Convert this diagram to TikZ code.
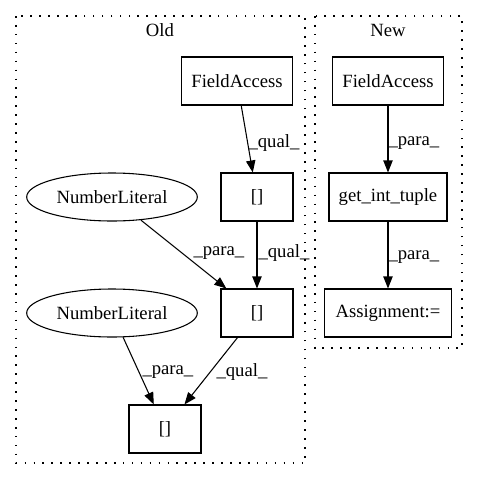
\documentclass[tikz,border=0pt]{standalone}
\usepackage{fontspec}
\setmainfont{Liberation Serif}
\usetikzlibrary{arrows.meta,shapes.geometric}

\begin{document}
\begin{tikzpicture}[x=0.75pt, y=-0.75pt, line width = 0.8pt,
  every node/.style={font=\fontsize{14}{16}\selectfont},
  box/.style={draw, rectangle, minimum height=36pt, inner sep=0pt},
  lit/.style={draw, ellipse, minimum width=128pt, minimum height=36pt, inner sep=0pt},
  edge/.style={-{Triangle[length=9pt,width=7pt]}},
  lbl/.style={anchor=west, inner sep=0pt},
  cluster/.style={line width=0.9pt, dash pattern=on 1.2pt off 5.5pt}]

\useasboundingbox (0,0) rectangle (477,480);

% clusters
\draw[cluster] (16,16) rectangle (305,463);
\node (oldTitle) at (160,30) {Old};
\draw[cluster] (315,16) rectangle (462,348);
\node (newTitle) at (388,30) {New};

% old
\node[box, minimum width=83pt] (oldField) at (237,81) {FieldAccess};
\node[box, minimum width=54pt] (oldSubA) at (257,197) {[]};
\node[lit] (numLitA) at (112,197) {NumberLiteral};
\node[box, minimum width=54pt] (oldSubB) at (257,313) {[]};
\node[lit] (numLitB) at (112,313) {NumberLiteral};
\node[box, minimum width=54pt] (oldSubC) at (165,429) {[]};

\draw[edge] (oldField) -- (oldSubA);
\node[lbl] (qualA) at (248,143) {\_qual\_};
\draw[edge] (oldSubA) -- (oldSubB);
\node[lbl] (qualB) at (258,253) {\_qual\_};
\draw[edge] (numLitA) -- (oldSubB);
\node[lbl] (paraA) at (193,253) {\_para\_};
\draw[edge] (numLitB) -- (oldSubC);
\node[lbl] (paraB) at (142,372) {\_para\_};
\draw[edge] (oldSubB) -- (oldSubC);
\node[lbl] (qualC) at (216,372) {\_qual\_};

% new
\node[box, minimum width=83pt] (newField) at (388,81) {FieldAccess};
\node[box, minimum width=88.5pt] (getTuple) at (388,197) {get\_int\_tuple};
\node[box, minimum width=95pt] (assign) at (388,313) {Assignment:=};

\draw[edge] (newField) -- (getTuple);
\node[lbl] (paraC) at (388,143) {\_para\_};
\draw[edge] (getTuple) -- (assign);
\node[lbl] (paraD) at (388,257) {\_para\_};

\end{tikzpicture}
\end{document}
